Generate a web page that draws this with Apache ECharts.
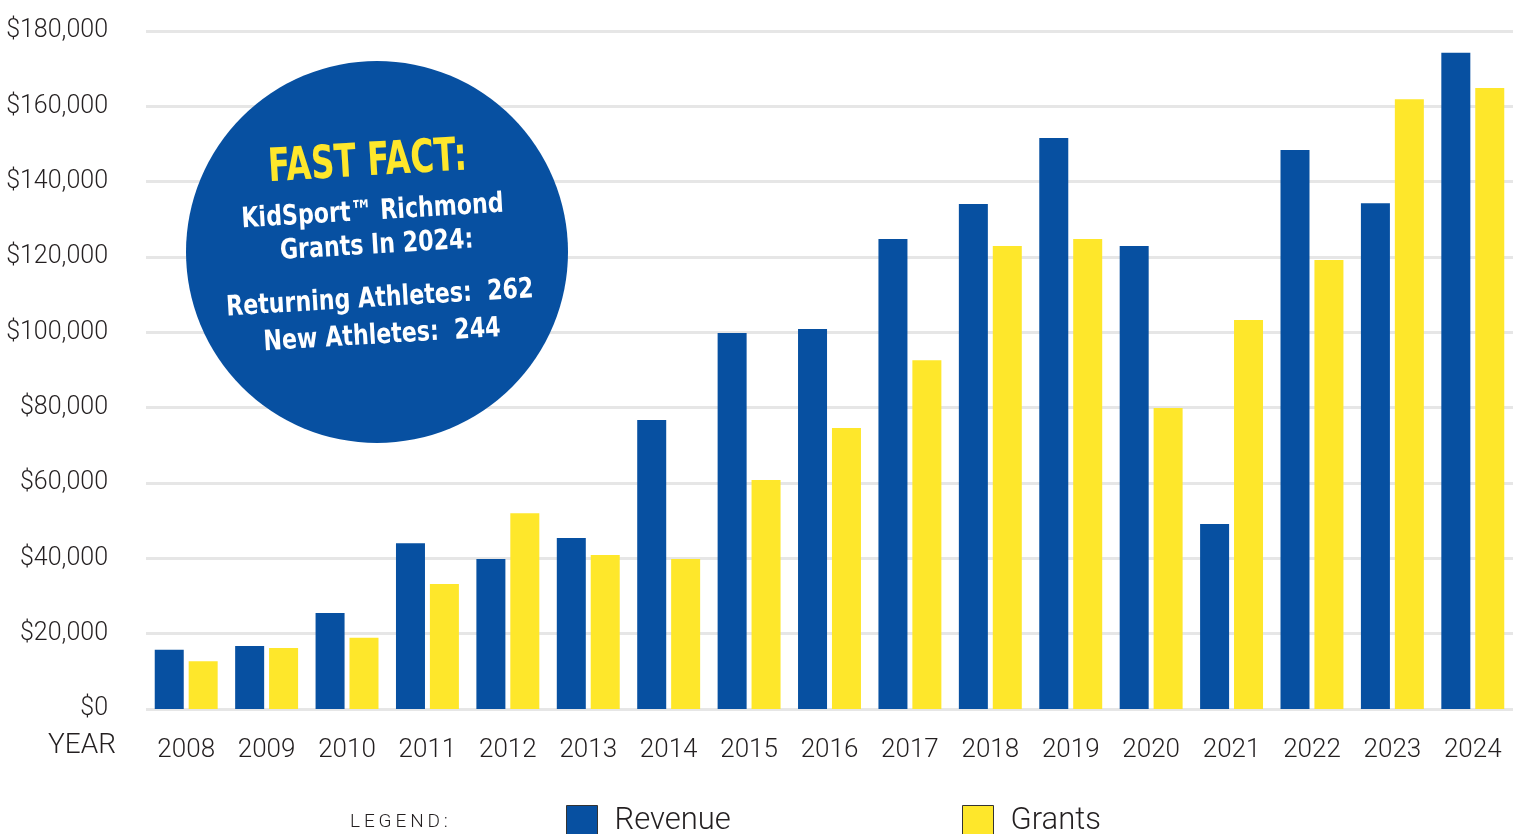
<!DOCTYPE html>
<html>
<head>
<meta charset="utf-8">
<script src="https://cdn.jsdelivr.net/npm/echarts@6/dist/echarts.min.js"></script>
<style>
html,body{margin:0;padding:0;background:#fff;}
#c{width:1519px;height:834px;}
</style>
</head>
<body>
<div id="c"></div>
<script>
const years = ['2008','2009','2010','2011','2012','2013','2014','2015','2016','2017','2018','2019','2020','2021','2022','2023','2024'];
const revenue = [15700,16700,25500,44000,39800,45400,76700,99800,100900,124800,134100,151600,122900,49100,148400,134300,174200];
const grants  = [12700,16200,18900,33200,52000,40900,39800,60800,74600,92600,122900,124800,79900,103300,119200,161900,164900];
const factLines = ['FAST FACT:','KidSport\u2122 Richmond','Grants In 2024:','Returning Athletes:  262','New Athletes:  244'];
const legendTitle = 'L\u2009E\u2009G\u2009E\u2009N\u2009D\u2009:';

const BLUE = '#0750a1';
const YELLOW = '#fee72b';
const INK = '#231f20';
const THIN = "Roboto, 'Noto Sans', sans-serif";
const BOLD = "'DejaVu Sans Condensed', 'Noto Sans', sans-serif";

const whiteLine = (txt, x, y) => ({
  type: 'text', x: x, y: y, scaleX: 0.88, z: 101,
  style: { text: txt, fill: '#fff', font: "bold 28px " + BOLD, textAlign: 'center', textVerticalAlign: 'middle' }
});

const chart = echarts.init(document.getElementById('c'));
chart.setOption({
  animation: false,
  backgroundColor: '#fff',
  grid: { left: 146, right: 6, top: 31, bottom: 125, containLabel: false, outerBoundsMode: 'none' },
  xAxis: {
    type: 'category',
    data: years,
    axisLine: { show: false },
    axisTick: { show: false },
    axisLabel: { color: INK, fontSize: 26, fontWeight: 300, fontFamily: THIN, margin: 28, interval: 0 }
  },
  yAxis: {
    type: 'value',
    min: 0, max: 180000, interval: 20000,
    axisLine: { show: false },
    axisTick: { show: false },
    splitLine: { lineStyle: { color: '#e6e6e6', width: 3 } },
    axisLabel: {
      color: INK, fontSize: 25, fontWeight: 300, fontFamily: THIN, margin: 38,
      formatter: v => '$' + v.toLocaleString('en-US')
    }
  },
  legend: [
    { data: ['Revenue'], left: 566, top: 805, padding: 0, itemWidth: 31, itemHeight: 31, icon: 'rect',
      itemStyle: { borderColor: '#333', borderWidth: 1 },
      textStyle: { color: INK, fontSize: 31, fontWeight: 300, fontFamily: THIN, padding: [0,0,0,12] } },
    { data: ['Grants'], left: 962, top: 805, padding: 0, itemWidth: 31, itemHeight: 31, icon: 'rect',
      itemStyle: { borderColor: '#333', borderWidth: 1 },
      textStyle: { color: INK, fontSize: 31, fontWeight: 300, fontFamily: THIN, padding: [0,0,0,12] } }
  ],
  series: [
    { name: 'Revenue', type: 'bar', data: revenue, barWidth: 29, barGap: '17%',
      itemStyle: { color: BLUE } },
    { name: 'Grants', type: 'bar', data: grants, barWidth: 29, barGap: '17%',
      itemStyle: { color: YELLOW } }
  ],
  graphic: [
    { type: 'text', left: 48, top: 732,
      style: { text: 'YEAR', fill: INK, font: "300 28px " + THIN } },
    { type: 'text', left: 350, top: 813,
      style: { text: legendTitle, fill: INK, font: "300 19px " + THIN } },
    { type: 'circle', shape: { cx: 377, cy: 252, r: 191 }, style: { fill: BLUE }, z: 100 },
    { type: 'group', x: 377, y: 252, rotation: 0.06, z: 101,
      children: [
        { type: 'text', x: -4, y: -89, scaleX: 0.78, z: 101,
          style: { text: factLines[0], fill: YELLOW, font: "bold 46px " + BOLD, textAlign: 'center', textVerticalAlign: 'middle' } },
        whiteLine(factLines[1], -2, -40),
        whiteLine(factLines[2], 0, -6),
        whiteLine(factLines[3], 0, 47),
        whiteLine(factLines[4], 0, 84)
      ]
    }
  ]
});
</script>
</body>
</html>
